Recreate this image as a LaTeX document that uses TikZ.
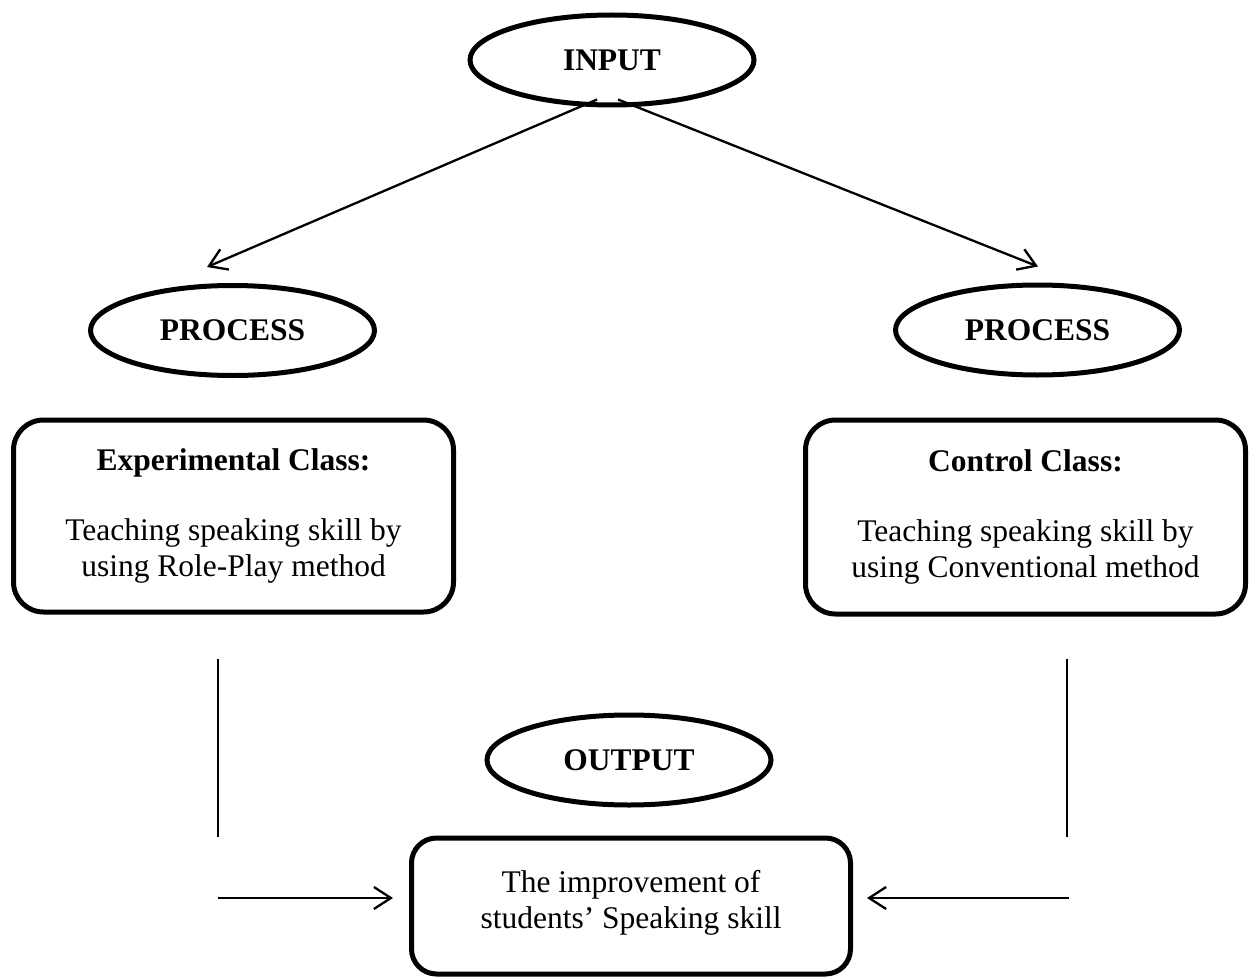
\documentclass[tikz,border=0pt]{standalone}
\usepackage{fontspec}
\setmainfont{Liberation Serif}
\usetikzlibrary{shapes.geometric,arrows.meta}
\begin{document}
\begin{tikzpicture}[x=1pt,y=-1pt,
  oval/.style={draw,line width=5pt,ellipse,inner sep=0pt,minimum width=284pt,minimum height=90pt,font=\fontsize{31.5}{36}\selectfont\bfseries},
  rbox/.style={draw,line width=5pt,rounded corners=30pt,inner sep=0pt,align=center,font=\fontsize{31.5}{36}\selectfont},
  conn/.style={line width=2.3pt},
  arr/.style={conn,-{Straight Barb[length=17pt,width=22pt]}}]
\useasboundingbox (0,0) rectangle (1256,979);
\node[oval] (input) at (612,60) {INPUT};
\node[oval] (procL) at (232.5,330.5) {PROCESS};
\node[oval] (procR) at (1037.5,330) {PROCESS};
\node[rbox,minimum width=440pt,minimum height=192pt] (exp) at (233.5,516)
  {\textbf{Experimental Class:}\\[34pt]Teaching speaking skill by\\using Role-Play method};
\node[rbox,minimum width=440pt,minimum height=194pt] (ctl) at (1025.5,517)
  {\textbf{Control Class:}\\[34pt]Teaching speaking skill by\\using Conventional method};
\node[oval] (output) at (629,760) {OUTPUT};
\node[rbox,rounded corners=25pt,minimum width=439pt,minimum height=136pt] (obox) at (631,906)
  {The improvement of\\students’ Speaking skill\\[-22pt]\mbox{}};
\draw[arr] ([xshift=-15pt,yshift=8pt]input.south) -- ([xshift=-25.5pt,yshift=16pt]procL.north);
\draw[arr] ([xshift=6pt,yshift=8pt]input.south) -- ([xshift=0.5pt,yshift=16pt]procR.north);
\coordinate (lTop) at (218,659);
\coordinate (lBot) at (218,837);
\coordinate (lArr) at (218,898);
\coordinate (rTop) at (1067,659);
\coordinate (rBot) at (1067,837);
\coordinate (rArr) at (1069,898);
\draw[conn] (lTop) -- (lBot);
\draw[conn] (rTop) -- (rBot);
\draw[arr,shorten >=16pt] (lArr) -- (lArr -| obox.west);
\draw[arr,shorten >=14pt] (rArr) -- (rArr -| obox.east);
\end{tikzpicture}
\end{document}
